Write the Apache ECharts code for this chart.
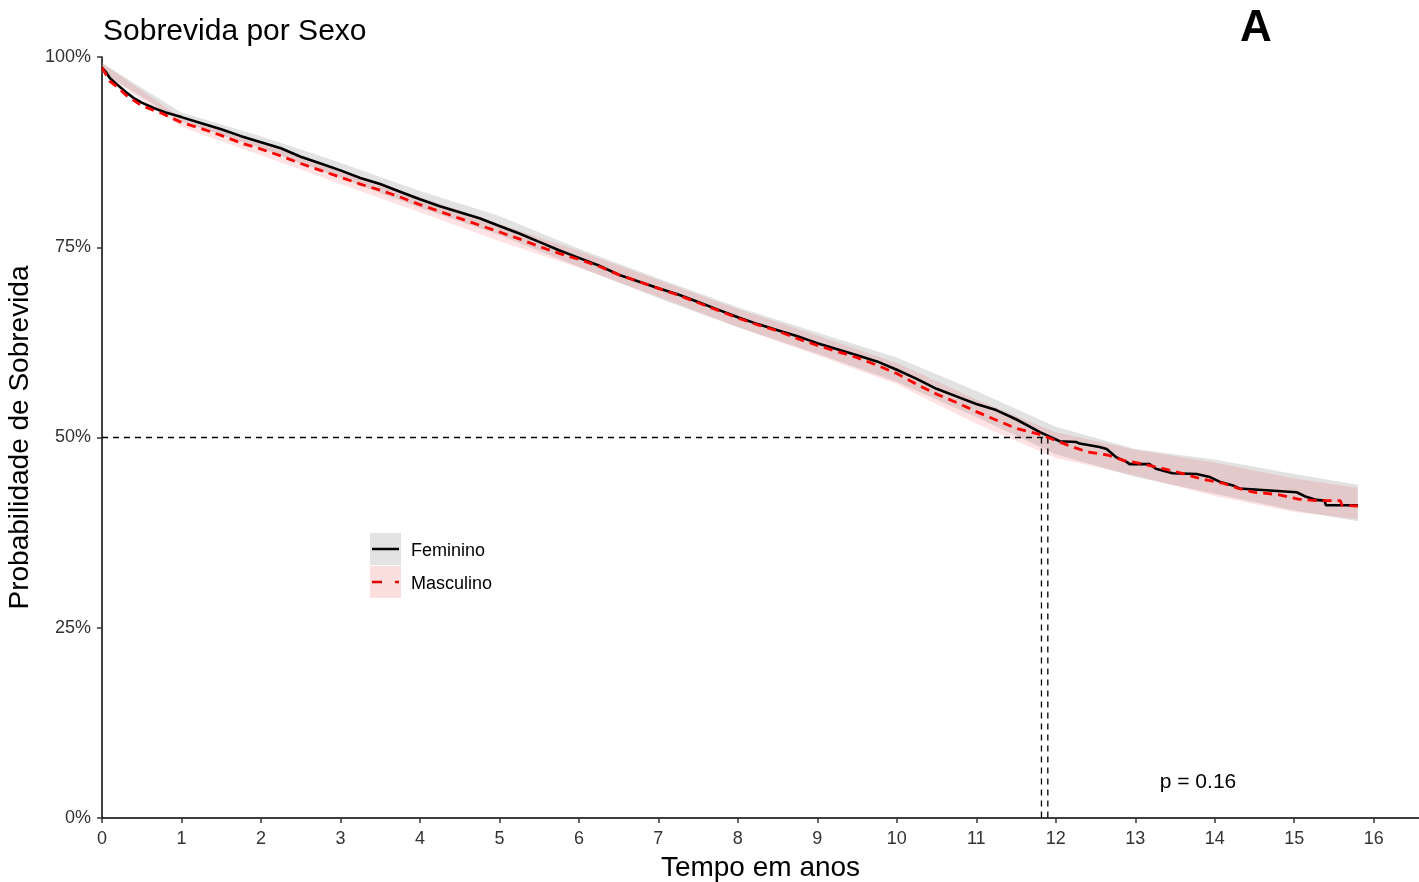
<!DOCTYPE html>
<html>
<head>
<meta charset="utf-8">
<script src="https://cdn.jsdelivr.net/npm/echarts@6/dist/echarts.min.js"></script>
<style>
html,body{margin:0;padding:0;background:#fff;}
#chart{width:1419px;height:882px;}
</style>
</head>
<body>
<div id="chart"></div>
<script>
// ---- Data ----
const timesF = [0,0.05,0.1,0.2,0.3,0.4,0.5,0.65,0.8,1.0,1.25,1.5,1.75,2.0,2.25,2.5,2.75,3.0,3.25,3.5,3.75,4.0,4.25,4.5,4.75,5.0,5.25,5.5,5.75,6.0,6.25,6.5,6.75,7.0,7.25,7.5,7.75,8.0,8.25,8.5,8.75,9.0,9.25,9.5,9.75,10.0,10.25,10.5,10.75,11.0,11.25,11.5,11.8,12.05,12.26,12.30,12.55,12.64,12.76,12.89,12.93,13.18,13.26,13.47,13.77,13.94,14.06,14.23,14.31,15.03,15.15,15.28,15.38,15.40,15.80];
const survF  = [98.6,98.0,97.2,96.3,95.4,94.6,94.0,93.3,92.7,92.1,91.3,90.5,89.6,88.8,88.0,86.9,86.0,85.1,84.1,83.3,82.3,81.3,80.4,79.6,78.8,77.8,76.8,75.7,74.6,73.6,72.6,71.4,70.5,69.6,68.8,67.8,66.8,65.8,64.9,64.1,63.3,62.4,61.6,60.8,60.0,58.9,57.7,56.4,55.4,54.4,53.6,52.4,50.7,49.5,49.4,49.2,48.75,48.5,47.4,46.8,46.5,46.5,45.9,45.3,45.2,44.8,44.2,43.7,43.3,42.8,42.2,41.8,41.7,41.1,41.1];

const timesM = [0,0.1,0.2,0.3,0.5,0.75,1.0,1.25,1.5,1.75,2.0,2.25,2.5,2.75,3.0,3.25,3.5,3.75,4.0,4.25,4.5,4.75,5.0,5.25,5.5,5.75,6.0,6.25,6.5,6.75,7.0,7.25,7.5,7.75,8.0,8.25,8.5,8.75,9.0,9.25,9.5,9.75,10.0,10.25,10.5,10.75,11.0,11.25,11.5,11.8,12.0,12.2,12.4,12.65,12.85,13.1,13.35,13.55,13.85,14.1,14.3,14.5,14.8,15.05,15.3,15.58,15.6,15.8];
const survM  = [98.6,96.8,96.0,95.0,93.6,92.6,91.4,90.6,89.7,88.7,87.9,87.0,86.0,85.1,84.2,83.3,82.5,81.6,80.6,79.7,78.8,77.9,77.0,76.1,75.1,74.2,73.4,72.5,71.4,70.5,69.6,68.7,67.7,66.7,65.7,64.8,64.0,63.0,62.1,61.3,60.5,59.5,58.4,57.0,55.7,54.6,53.4,52.3,51.2,50.4,49.6,48.8,48.1,47.7,47.0,46.5,45.9,45.4,44.5,44.0,43.3,42.8,42.5,41.9,41.7,41.7,41.1,41.0];

// confidence bands
const bandTimes = [0,1,2,3,4,5,6,7,8,9,10,11,12,13,14,15,15.8];
const upperF = [99.2,92.7,89.6,86.1,82.4,79.1,74.8,70.9,67.1,63.8,60.5,56.1,51.4,48.5,47.1,45.2,43.8];
const lowerF = [98.0,91.5,88.0,84.1,80.2,76.6,72.4,68.3,64.5,61.0,57.3,52.7,47.8,44.8,42.6,40.4,39.0];
const upperM = [99.2,92.0,88.7,85.1,81.6,78.1,74.5,70.7,66.9,63.4,59.8,55.0,50.7,48.4,46.7,44.6,43.4];
const lowerM = [98.0,90.8,87.1,83.3,79.6,75.8,72.3,68.5,64.5,60.8,57.0,51.8,47.3,45.0,42.3,40.2,39.3];

// medians
const medianF = 11.90;
const medianM = 11.82;
const medianLevel = 50;

const seriesNames = ['Feminino','Masculino'];
const yTickValues = [0,25,50,75,100];
const xTickValues = [0,1,2,3,4,5,6,7,8,9,10,11,12,13,14,15,16];
const pValueText = 'p = 0.16';
const titleText = 'Sobrevida por Sexo';
const panelLabel = 'A';
const xName = 'Tempo em anos';
const yName = 'Probabilidade de Sobrevida';

// ---- Chart ----
const FONT = '"Liberation Sans", Arial, sans-serif';
const chart = echarts.init(document.getElementById('chart'));

function bandSeries(upper, lower, fill, z) {
  return {
    type: 'custom',
    coordinateSystem: 'cartesian2d',
    silent: true,
    z: z,
    data: [[bandTimes[0], upper[0]]],
    renderItem: function (params, api) {
      const pts = [];
      for (let i = 0; i < bandTimes.length; i++) pts.push(api.coord([bandTimes[i], upper[i]]));
      for (let i = bandTimes.length - 1; i >= 0; i--) pts.push(api.coord([bandTimes[i], lower[i]]));
      return { type: 'polygon', shape: { points: pts }, style: { fill: fill } };
    }
  };
}

const option = {
  animation: false,
  backgroundColor: '#fff',
  title: {
    text: titleText, left: 98, top: 12,
    textStyle: { fontFamily: FONT, fontSize: 30, fontWeight: 'normal', color: '#000' }
  },
  grid: { left: 102, right: 0, top: 57, bottom: 64, containLabel: false, outerBoundsMode: 'none' },
  xAxis: {
    type: 'value', min: 0, max: 16.57, interval: 1,
    name: xName, nameLocation: 'middle', nameGap: 36,
    nameTextStyle: { fontFamily: FONT, fontSize: 28, color: '#000' },
    axisLine: { show: true, lineStyle: { color: '#000', width: 1.5 } },
    axisTick: { show: true, length: 5, lineStyle: { color: '#333', width: 1.5 } },
    axisLabel: {
      fontFamily: FONT, fontSize: 18, color: '#333', margin: 12, showMaxLabel: false,
      formatter: function (v) { return xTickValues.indexOf(v) >= 0 ? String(v) : ''; }
    },
    splitLine: { show: false }
  },
  yAxis: {
    type: 'value', min: 0, max: 100, interval: 25,
    name: yName, nameLocation: 'middle', nameGap: 64, nameRotate: 90,
    nameTextStyle: { fontFamily: FONT, fontSize: 28, color: '#000' },
    axisLine: { show: true, lineStyle: { color: '#000', width: 1.5 } },
    axisTick: { show: true, length: 5, lineStyle: { color: '#333', width: 1.5 } },
    axisLabel: {
      fontFamily: FONT, fontSize: 18, color: '#333', margin: 11,
      formatter: function (v) { return yTickValues.indexOf(v) >= 0 ? v + '%' : ''; }
    },
    splitLine: { show: false }
  },
  series: [
    bandSeries(upperF, lowerF, 'rgba(160,160,160,0.3)', 1),
    bandSeries(upperM, lowerM, 'rgba(240,40,40,0.13)', 2),
    {
      type: 'line', silent: true, symbol: 'none', z: 3,
      data: [[0, medianLevel], [Math.max(medianF, medianM), medianLevel]],
      lineStyle: { color: '#000', width: 1.3, type: [6, 5] }
    },
    {
      type: 'line', silent: true, symbol: 'none', z: 3,
      data: [[medianF, medianLevel], [medianF, 0]],
      lineStyle: { color: '#000', width: 1.3, type: [6, 5] }
    },
    {
      type: 'line', silent: true, symbol: 'none', z: 3,
      data: [[medianM, medianLevel], [medianM, 0]],
      lineStyle: { color: '#000', width: 1.3, type: [6, 5] }
    },
    {
      name: seriesNames[0], type: 'line', symbol: 'none', z: 4,
      data: timesF.map((t, i) => [t, survF[i]]),
      lineStyle: { color: '#000', width: 2.6 }
    },
    {
      name: seriesNames[1], type: 'line', symbol: 'none', z: 5,
      data: timesM.map((t, i) => [t, survM[i]]),
      lineStyle: { color: '#ff0000', width: 2.8, type: [9, 6] }
    }
  ],
  graphic: [
    { type: 'text', left: 1240, top: 7, style: { text: panelLabel, font: 'bold 44px ' + FONT, fill: '#000' } },
    { type: 'text', x: 1198, y: 782, style: { text: pValueText, font: '21px ' + FONT, fill: '#000', align: 'center', verticalAlign: 'middle' } },
    // legend
    { type: 'rect', shape: { x: 370, y: 533, width: 31, height: 32 }, style: { fill: '#e3e3e3' } },
    { type: 'line', shape: { x1: 372, y1: 549, x2: 399, y2: 549 }, style: { stroke: '#000', lineWidth: 2.5 } },
    { type: 'text', x: 411, y: 551, style: { text: seriesNames[0], font: '18px ' + FONT, fill: '#000', verticalAlign: 'middle' } },
    { type: 'rect', shape: { x: 370, y: 566, width: 31, height: 32 }, style: { fill: '#fbdede' } },
    { type: 'line', shape: { x1: 372, y1: 582, x2: 399, y2: 582 }, style: { stroke: '#e00000', lineWidth: 2.5, lineDash: [10, 13] } },
    { type: 'text', x: 411, y: 584, style: { text: seriesNames[1], font: '18px ' + FONT, fill: '#000', verticalAlign: 'middle' } }
  ]
};
chart.setOption(option);
</script>
</body>
</html>
